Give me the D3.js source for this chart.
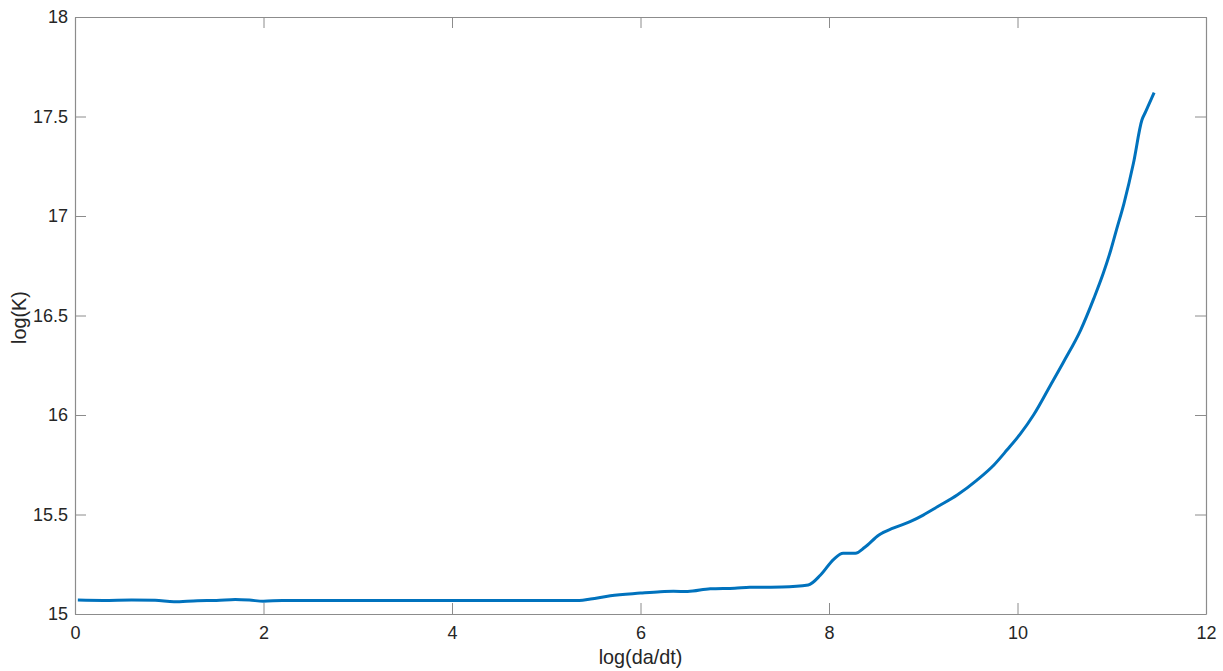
<!DOCTYPE html>
<html>
<head>
<meta charset="utf-8">
<style>
  body { margin: 0; background: #fff; }
  svg { display: block; font-family: Arial, 'Liberation Sans', Helvetica, sans-serif; }
  .axis text { fill: #262626; font-size: 18px; }
  .axis .domain { stroke: #8c8c8c; }
  .axis .tick line { stroke: #8c8c8c; }
</style>
</head>
<body>
<svg width="1223" height="671"></svg>
<script src="https://d3js.org/d3.v7.min.js"></script>
<script>
// data
let rateValues = [0.03, 0.3, 0.6, 0.85, 1.05, 1.3, 1.5, 1.7, 1.85, 2.0, 2.2, 2.5, 3.0, 3.5, 4.0, 4.5, 5.0, 5.35,
                  5.47, 5.68, 6.0, 6.21, 6.35, 6.5, 6.74, 7.0, 7.16, 7.5, 7.78, 7.91, 8.05, 8.15, 8.28, 8.38, 8.53,
                  8.68, 8.86, 9.0, 9.15, 9.36, 9.57, 9.75, 9.89, 10.03, 10.17, 10.35, 10.49, 10.67,
                  10.81, 10.91, 10.99, 11.05, 11.13, 11.23, 11.32, 11.36, 11.45]
let kValues = [15.070, 15.068, 15.070, 15.069, 15.062, 15.067, 15.068, 15.073, 15.070, 15.064, 15.068, 15.068, 15.068,
               15.068, 15.068, 15.068, 15.068, 15.068,
               15.075, 15.092, 15.105, 15.112, 15.114, 15.113, 15.127, 15.130, 15.134, 15.136, 15.146, 15.196, 15.275,
               15.305, 15.305, 15.335, 15.397, 15.431, 15.464, 15.497, 15.539, 15.598, 15.673, 15.749, 15.825,
               15.905, 16.0, 16.15, 16.268, 16.427, 16.586, 16.712, 16.829, 16.93, 17.064, 17.265, 17.482,
               17.524, 17.62]
let xTicks = [0, 2, 4, 6, 8, 10, 12]
let yTicks = [15, 15.5, 16, 16.5, 17, 17.5, 18]

let margin = { top: 17, right: 17, bottom: 57, left: 75 }
let width = 1223, height = 671

let svg = d3.select("svg")

let x = d3.scaleLinear()
    .domain([0, 12])
    .range([margin.left, width - margin.right])

let y = d3.scaleLinear()
    .domain([15, 18])
    .range([height - margin.bottom, margin.top])

let data = rateValues.map((d, i) => ({ x: d, y: kValues[i] }))

// axes (ticks point inward, box on)
svg.append("g")
    .attr("class", "axis")
    .attr("transform", `translate(0,${y(15)})`)
    .call(d3.axisBottom(x).tickValues(xTicks).tickSize(-11).tickSizeOuter(0).tickPadding(12).tickFormat(d3.format("d")))

svg.append("g")
    .attr("class", "axis")
    .attr("transform", `translate(0,${y(18)})`)
    .call(d3.axisTop(x).tickValues(xTicks).tickSize(-11).tickSizeOuter(0).tickFormat(""))

svg.append("g")
    .attr("class", "axis")
    .attr("transform", `translate(${x(0)},0)`)
    .call(d3.axisLeft(y).tickValues(yTicks).tickSize(-11).tickSizeOuter(0).tickPadding(7).tickFormat(d3.format("")))

svg.append("g")
    .attr("class", "axis")
    .attr("transform", `translate(${x(12)},0)`)
    .call(d3.axisRight(y).tickValues(yTicks).tickSize(-11).tickSizeOuter(0).tickFormat(""))

svg.selectAll(".axis .domain").attr("stroke-width", 1.2)

// the curve
let line = d3.line()
    .x(d => x(d.x))
    .y(d => y(d.y))
    .curve(d3.curveMonotoneX)

svg.append("path")
    .datum(data)
    .attr("d", line)
    .attr("fill", "none")
    .attr("stroke", "#0072BD")
    .attr("stroke-width", 3)
    .attr("stroke-linejoin", "round")

// axis labels
svg.append("text")
    .attr("x", (x(0) + x(12)) / 2)
    .attr("y", 664)
    .attr("text-anchor", "middle")
    .style("font-size", "19.8px")
    .style("fill", "#262626")
    .text("log(da/dt)")

svg.append("text")
    .attr("transform", `translate(26,${(y(15) + y(18)) / 2 + 2}) rotate(-90)`)
    .attr("text-anchor", "middle")
    .style("font-size", "19.8px")
    .style("fill", "#262626")
    .text("log(K)")
</script>
</body>
</html>
